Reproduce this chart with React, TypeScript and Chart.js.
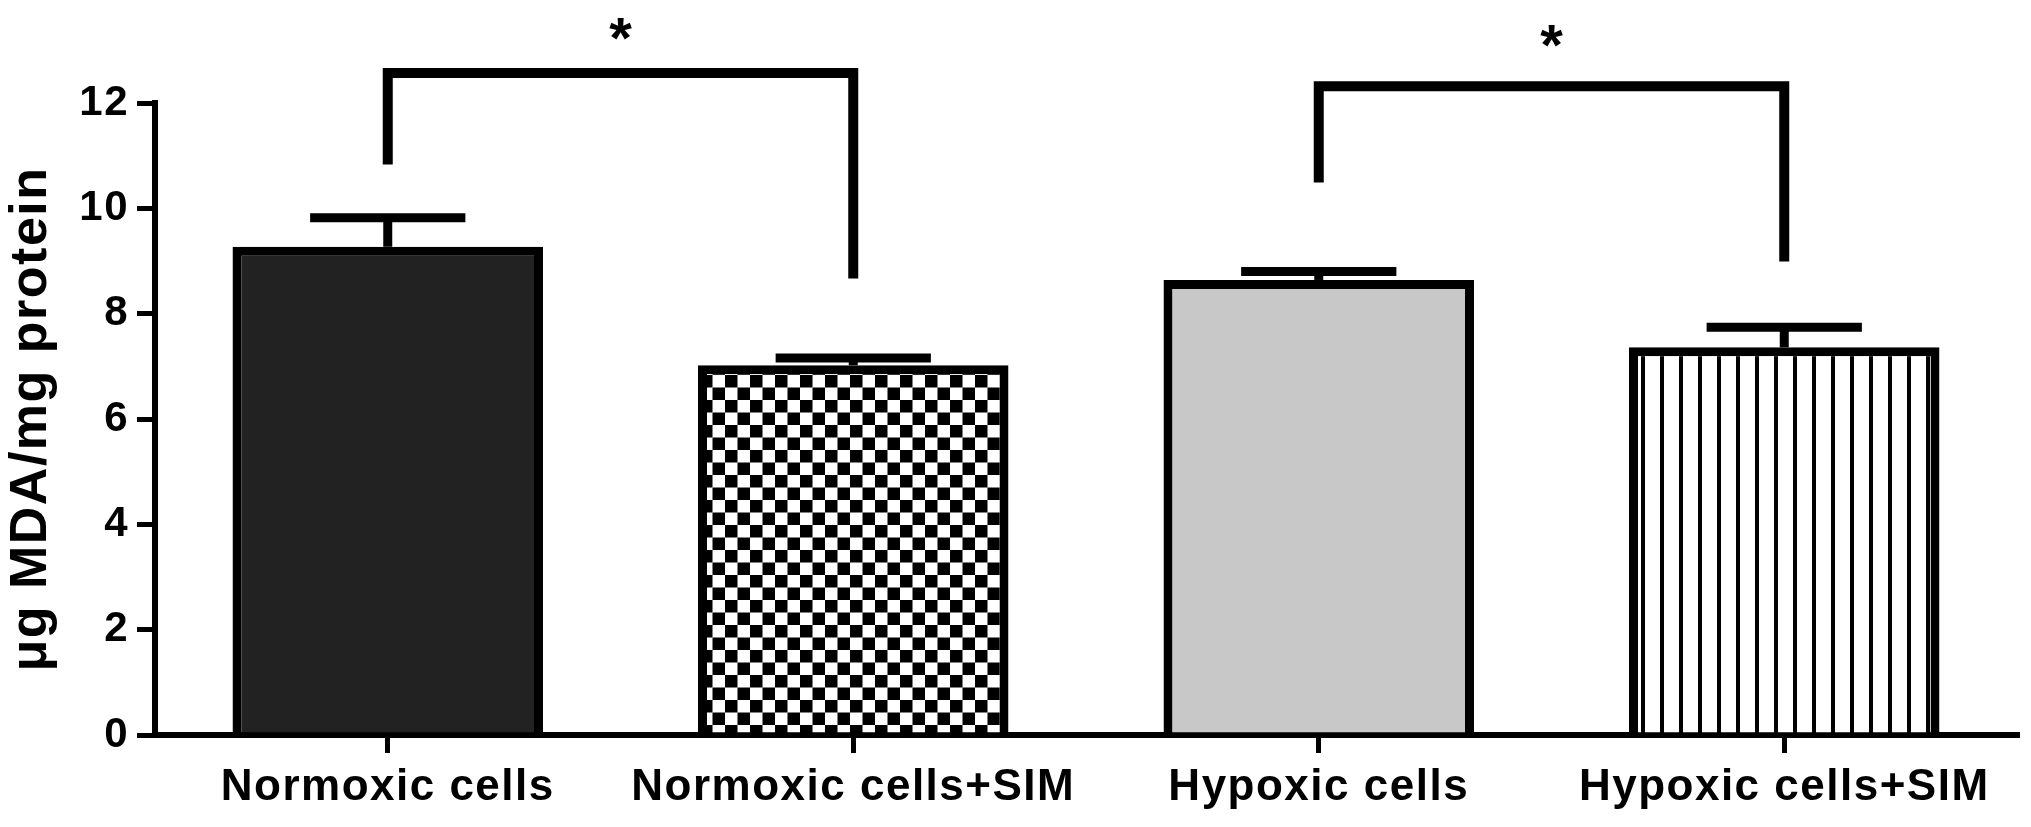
import React, { useEffect, useRef } from 'react';
import { Chart, registerables } from 'chart.js';

Chart.register(...registerables);

const categories = ['Normoxic cells', 'Normoxic cells+SIM', 'Hypoxic cells', 'Hypoxic cells+SIM'];
const means = [9.27, 7.02, 8.64, 7.36];
const errors = [0.55, 0.14, 0.16, 0.38];
const yTicks = [0, 2, 4, 6, 8, 10, 12];
const yTitle = 'μg MDA/mg protein';

// significance brackets
const bracketFrom = [0, 2];
const bracketTo = [1, 3];
const bracketTops = [12.57, 12.32];
const bracketLeftEnds = [10.83, 10.49];
const bracketRightEnds = [8.67, 8.99];
const starLevels = [13.48, 13.33];
const starLabels = ['*', '*'];

const FONT = '"Liberation Sans", Arial, Helvetica, sans-serif';

function makeCheckerPattern(ctx: CanvasRenderingContext2D) {
  const c = document.createElement('canvas');
  c.width = 25;
  c.height = 25;
  const g = c.getContext('2d')!;
  g.fillStyle = '#fff';
  g.fillRect(0, 0, 25, 25);
  g.fillStyle = '#000';
  g.fillRect(0, 0, 12.5, 12.5);
  g.fillRect(12.5, 12.5, 12.5, 12.5);
  return ctx.createPattern(c, 'repeat');
}

function makeStripePattern(ctx: CanvasRenderingContext2D) {
  const c = document.createElement('canvas');
  c.width = 19;
  c.height = 19;
  const g = c.getContext('2d')!;
  g.fillStyle = '#fff';
  g.fillRect(0, 0, 19, 19);
  g.fillStyle = '#000';
  g.fillRect(7, 0, 4, 19);
  return ctx.createPattern(c, 'repeat');
}

const letterSpacingPlugin = {
  id: 'letterSpacing',
  beforeDraw(chart: any) {
    try {
      (chart.ctx as any).letterSpacing = '1.5px';
    } catch (e) {}
  },
};

const errorBarPlugin = {
  id: 'errorBars',
  afterDatasetsDraw(chart: any) {
    const meta = chart.getDatasetMeta(0);
    const y = chart.scales.y;
    const ctx = chart.ctx as CanvasRenderingContext2D;
    ctx.save();
    ctx.strokeStyle = '#000';
    ctx.lineCap = 'butt';
    ctx.lineWidth = 9;
    meta.data.forEach((bar: any, i: number) => {
      const x = bar.x;
      const yv = y.getPixelForValue(means[i]);
      const yt = y.getPixelForValue(means[i] + errors[i]);
      const half = bar.width * 0.25;
      ctx.beginPath();
      ctx.moveTo(x, yv);
      ctx.lineTo(x, yt);
      ctx.stroke();
      ctx.beginPath();
      ctx.moveTo(x - half, yt);
      ctx.lineTo(x + half, yt);
      ctx.stroke();
    });
    ctx.restore();
  },
};

const bracketPlugin = {
  id: 'brackets',
  afterDraw(chart: any) {
    const meta = chart.getDatasetMeta(0);
    const y = chart.scales.y;
    const ctx = chart.ctx as CanvasRenderingContext2D;
    ctx.save();
    ctx.strokeStyle = '#000';
    ctx.fillStyle = '#000';
    ctx.lineWidth = 10;
    ctx.lineJoin = 'miter';
    ctx.lineCap = 'butt';
    bracketFrom.forEach((from, k) => {
      const x1 = meta.data[from].x;
      const x2 = meta.data[bracketTo[k]].x;
      const yTop = y.getPixelForValue(bracketTops[k]);
      ctx.beginPath();
      ctx.moveTo(x1, y.getPixelForValue(bracketLeftEnds[k]));
      ctx.lineTo(x1, yTop);
      ctx.lineTo(x2, yTop);
      ctx.lineTo(x2, y.getPixelForValue(bracketRightEnds[k]));
      ctx.stroke();
      const size = 58;
      ctx.font = `bold ${size}px ${FONT}`;
      ctx.textAlign = 'center';
      ctx.textBaseline = 'alphabetic';
      (ctx as any).letterSpacing = '0px';
      const cy = y.getPixelForValue(starLevels[k]);
      ctx.fillText(starLabels[k], (x1 + x2) / 2, cy + 0.56 * size);
    });
    ctx.restore();
  },
};

export default function App() {
  const canvasRef = useRef<HTMLCanvasElement | null>(null);

  useEffect(() => {
    document.body.style.margin = '0';
    const canvas = canvasRef.current!;
    const ctx = canvas.getContext('2d')!;
    const checker = makeCheckerPattern(ctx);
    const stripes = makeStripePattern(ctx);

    const axisCommon = {
      grid: {
        display: true,
        drawOnChartArea: false,
        drawTicks: true,
        tickLength: 18,
        lineWidth: 5,
        color: '#000',
        offset: false,
      },
      border: { display: true, color: '#000', width: 6 },
    };

    const chart = new Chart(canvas, {
      type: 'bar',
      data: {
        labels: categories,
        datasets: [
          {
            data: means,
            backgroundColor: ['#222222', checker as any, '#c8c8c8', stripes as any],
            borderColor: '#000',
            borderWidth: 9,
            borderSkipped: 'start',
            categoryPercentage: 1,
            barPercentage: 0.667,
          },
        ],
      },
      options: {
        responsive: false,
        animation: false,
        devicePixelRatio: 1,
        layout: { padding: { top: 103, right: 14, left: 0, bottom: 0 } },
        plugins: {
          legend: { display: false },
          tooltip: { enabled: false },
        },
        scales: {
          x: {
            ...axisCommon,
            ticks: {
              color: '#000',
              font: { family: FONT, size: 44, weight: 'bold' },
              padding: 8,
              maxRotation: 0,
              autoSkip: false,
            },
            afterFit: (s: any) => {
              s.height = 92;
            },
          },
          y: {
            ...axisCommon,
            min: 0,
            max: 12,
            afterBuildTicks: (s: any) => {
              s.ticks = yTicks.map((v) => ({ value: v }));
            },
            ticks: {
              color: '#000',
              font: { family: FONT, size: 42, weight: 'bold' },
              padding: 8,
            },
            title: {
              display: true,
              text: yTitle,
              color: '#000',
              font: { family: FONT, size: 52, weight: 'bold' },
              padding: 0,
            },
            afterFit: (s: any) => {
              s.width = 155;
            },
          },
        },
      } as any,
      plugins: [letterSpacingPlugin, errorBarPlugin, bracketPlugin],
    });
    return () => chart.destroy();
  }, []);

  return (
    <div style={{ width: 2031, height: 827, background: '#fff' }}>
      <canvas ref={canvasRef} width={2031} height={827} style={{ display: 'block' }} />
    </div>
  );
}
